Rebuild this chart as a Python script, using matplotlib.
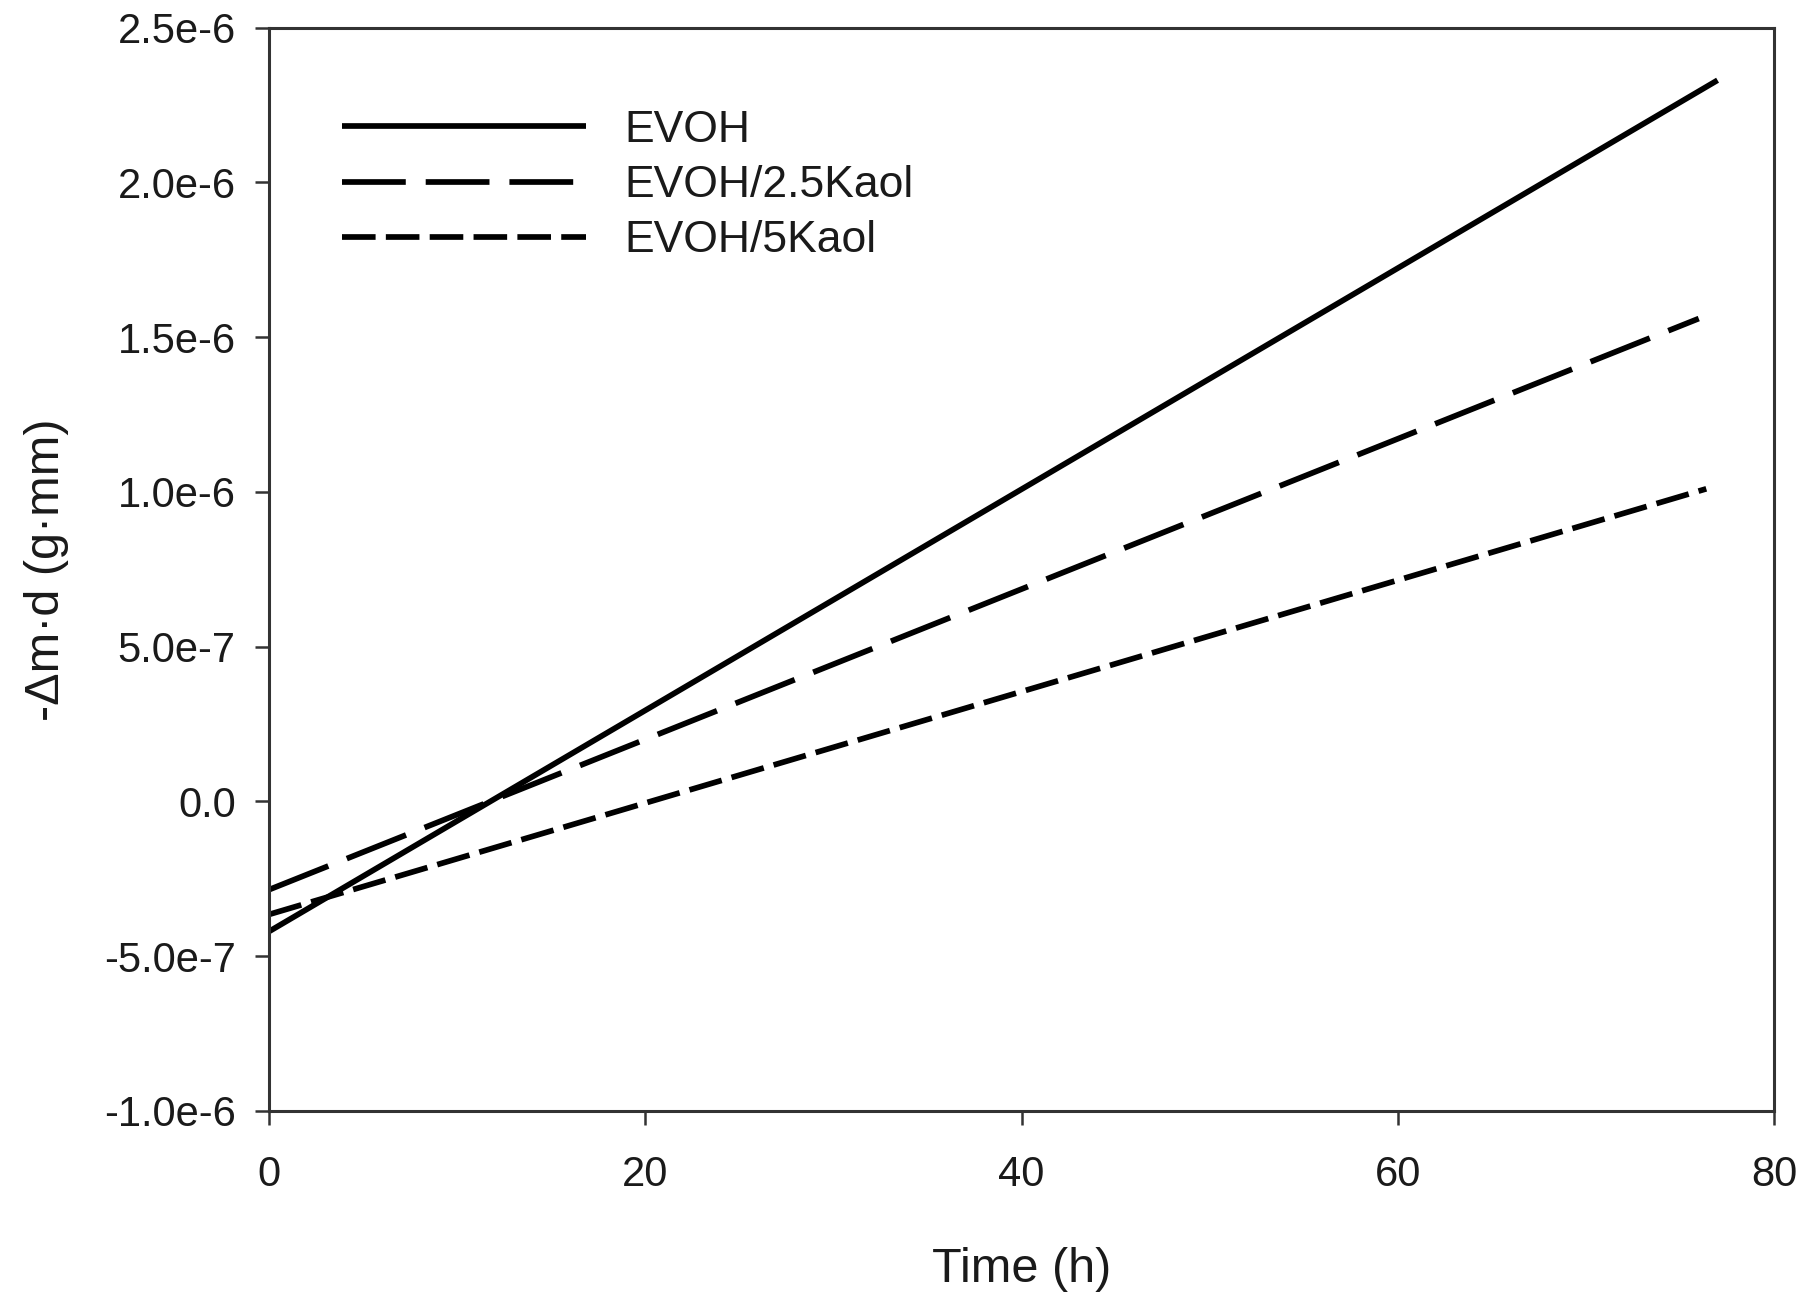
import matplotlib
matplotlib.use("Agg")
import matplotlib.pyplot as plt

plt.rcParams['font.family'] = ['Liberation Sans', 'DejaVu Sans']

# Data (fitted straight lines, start/end points)
labels = ["EVOH", "EVOH/2.5Kaol", "EVOH/5Kaol"]
t_evoh = [0, 77.0]
y_evoh = [-0.42e-6, 2.33e-6]
t_k25 = [0, 76.0]
y_k25 = [-0.285e-6, 1.56e-6]
t_k5 = [0, 76.4]
y_k5 = [-0.365e-6, 1.01e-6]

xticks = [0, 20, 40, 60, 80]
yticks = [-1.0e-6, -5.0e-7, 0.0, 5.0e-7, 1.0e-6, 1.5e-6, 2.0e-6, 2.5e-6]
yticklabels = ["-1.0e-6", "-5.0e-7", "0.0", "5.0e-7", "1.0e-6", "1.5e-6", "2.0e-6", "2.5e-6"]

fig = plt.figure(figsize=(18.18, 13.02), dpi=100)
ax = fig.add_axes([0.148, 0.1467, 0.8278, 0.8321])

lw = 4.1
ax.plot(t_evoh, y_evoh, color='black', lw=lw, solid_capstyle='butt', label=labels[0])
ax.plot(t_k25, y_k25, color='black', lw=lw, dashes=(11.2, 3.5), label=labels[1])
ax.plot(t_k5, y_k5, color='black', lw=lw, dashes=(5.9, 1.8), label=labels[2])

ax.set_xlim(0, 80)
ax.set_ylim(-1.0e-6, 2.5e-6)
ax.set_xticks(xticks)
ax.set_xticklabels([str(v) for v in xticks])
ax.set_yticks(yticks)
ax.set_yticklabels(yticklabels)

for s in ax.spines.values():
    s.set_linewidth(2.2)
    s.set_color('#333333')

ax.tick_params(axis='both', direction='out', length=10, width=1.8, color='#333333',
               labelsize=30, labelcolor='#1a1a1a')
ax.tick_params(axis='x', pad=22)
ax.tick_params(axis='y', pad=14)

ax.set_xlabel("Time (h)", fontsize=35, color='#1a1a1a')
ax.set_ylabel("-\u0394m\u00b7d (g\u00b7mm)", fontsize=35, color='#1a1a1a')
ax.xaxis.set_label_coords(0.5, -0.146)
ax.xaxis.label.set_verticalalignment('center')
ax.yaxis.set_label_coords(-0.148, 0.5)
ax.yaxis.label.set_verticalalignment('center')

leg = ax.legend(loc='upper left', bbox_to_anchor=(0.0485, 0.924), frameon=False,
                fontsize=32, handlelength=5.5, handletextpad=0.85, labelspacing=0.32,
                borderpad=0, borderaxespad=0)
for t in leg.get_texts():
    t.set_color('#1a1a1a')

fig.savefig("out.png", dpi=100, facecolor='white')
